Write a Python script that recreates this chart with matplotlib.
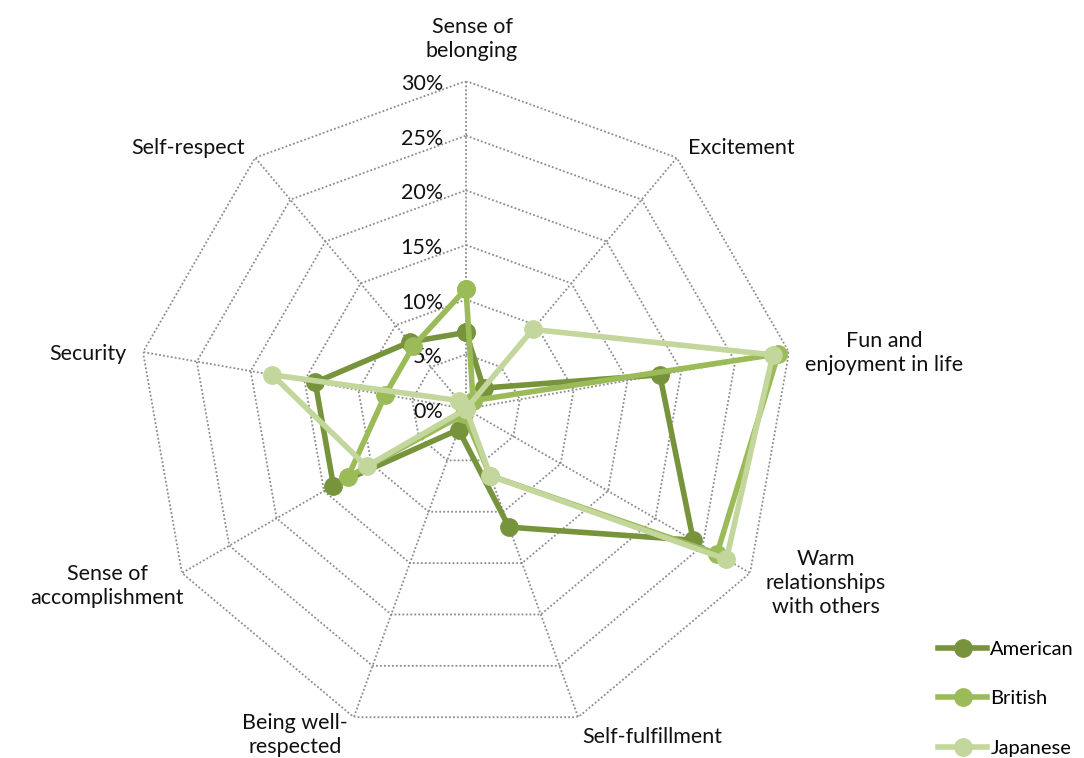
import numpy as np
import matplotlib
matplotlib.use('Agg')
import matplotlib.pyplot as plt

plt.rcParams['font.family'] = ['Lato', 'DejaVu Sans']

categories = ['Sense of\nbelonging', 'Excitement', 'Fun and\nenjoyment in life',
              'Warm\nrelationships\nwith others', 'Self-fulfillment',
              'Being well-\nrespected', 'Sense of\naccomplishment', 'Security',
              'Self-respect']
american = [7, 2.5, 18, 24, 11.5, 2, 14, 14, 8]
british = [11, 1, 29, 26.5, 6.5, 0.5, 12.5, 7.5, 7.5]
japanese = [0, 9.5, 28.5, 27.5, 6.5, 0, 10.5, 18, 1]
ring_values = [0, 5, 10, 15, 20, 25, 30]
ring_labels = ['0%', '5%', '10%', '15%', '20%', '25%', '30%']

series = [('American', american, '#77933C'),
          ('British', british, '#9BBB59'),
          ('Japanese', japanese, '#C3D69B')]

# label placement: (offset in pixels from outer vertex, alignment)
label_offsets = [((6, 42), 'center'), ((11, 10), 'left'), ((95, -1), 'center'),
                 ((76, -10), 'center'), ((74, -20), 'center'), ((-59, -18), 'center'),
                 ((-75, -13), 'center'), ((-16, -2), 'right'), ((-10, 10), 'right')]

FS = 15.5
W, H = 1084, 758
fig = plt.figure(figsize=(W / 100, H / 100), dpi=100)
cx, cy, R = 466, 409, 328
ax = fig.add_axes([(cx - R) / W, 1 - (cy + R) / H, 2 * R / W, 2 * R / H],
                  projection='polar')
ax.set_theta_offset(np.pi / 2)
ax.set_theta_direction(-1)
ax.set_ylim(0, 30)
ax.grid(False)
ax.set_xticks([])
ax.set_yticks([])
ax.spines['polar'].set_visible(False)
ax.patch.set_alpha(0)

n = len(categories)
theta = np.arange(n) * 2 * np.pi / n
closed = np.append(theta, theta[0])

grid_kw = dict(color='#8c8c8c', lw=1.3, ls=(0, (1, 1.2)), zorder=1)
for r in ring_values[1:]:
    ax.plot(closed, [r] * (n + 1), **grid_kw)
for t in theta:
    ax.plot([t, t], [0, 30], **grid_kw)

for r, lab in zip(ring_values, ring_labels):
    ax.annotate(lab, xy=(0, r), xytext=(-23, -3), textcoords='offset pixels',
                ha='right', va='center', fontsize=FS, color='#111111')

for t, lab, (off, ha) in zip(theta, categories, label_offsets):
    ax.annotate(lab, xy=(t, 30), xytext=off, textcoords='offset pixels',
                ha=ha, va='center', multialignment='center', fontsize=FS,
                color='#111111', linespacing=1.25, annotation_clip=False)

for i, (name, vals, col) in enumerate(series):
    ax.plot(closed, vals + vals[:1], color=col, lw=4, marker='o', ms=12.5,
            label=name, zorder=3 + i, clip_on=False)

fig.legend(loc='upper left', bbox_to_anchor=(938 / W, 1 - 641 / H),
           frameon=False, fontsize=14.5, handlelength=2.45, handletextpad=0.15,
           labelspacing=1.6, borderpad=0, borderaxespad=0)

fig.savefig('out.png', dpi=100)
